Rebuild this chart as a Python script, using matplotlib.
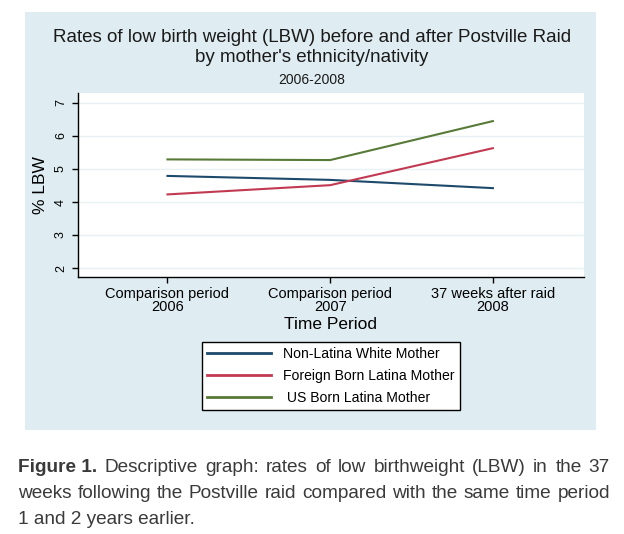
import numpy as np
import matplotlib.pyplot as plt
from matplotlib.patches import Rectangle

periods = ["Comparison period\n2006", "Comparison period\n2007", "37 weeks after raid\n2008"]
groups = ["Non-Latina White Mother", "Foreign Born Latina Mother", " US Born Latina Mother"]
white_nl = [4.79, 4.67, 4.42]
foreign_latina = [4.23, 4.51, 5.63]
us_latina = [5.29, 5.27, 6.45]
colors = ["#1d4a6b", "#c23a52", "#587a38"]
yticks = [2, 3, 4, 5, 6, 7]

caption_bold = "Figure 1."
caption_lines = [
    "Descriptive graph: rates of low birthweight (LBW) in the 37",
    "weeks following the Postville raid compared with the same time period",
    "1 and 2 years earlier.",
]

plt.rcParams['font.family'] = ['Liberation Sans', 'DejaVu Sans']

W, H = 624, 534
fig = plt.figure(figsize=(W / 100, H / 100), dpi=100)
fig.patch.set_facecolor("white")

# light blue panel behind the graph
panel = Rectangle((25 / W, 1 - 430 / H), (596 - 25) / W, (430 - 12) / H,
                  transform=fig.transFigure, facecolor="#dfedf2", edgecolor="none", zorder=-5)
fig.patches.append(panel)

ax = fig.add_axes([78 / W, 1 - 277 / H, (584 - 78) / W, (277 - 93) / H])
ax.set_facecolor("white")
x = np.arange(len(periods))
for vals, c, lab in zip([white_nl, foreign_latina, us_latina], colors, groups):
    ax.plot(x, vals, color=c, lw=1.5, label=lab, zorder=3)

ax.set_xlim(-0.55, 2.56)
ax.set_ylim(1.73, 7.3)
ax.set_yticks(yticks)
ax.set_yticklabels([str(t) for t in yticks], rotation=90, va="center", fontsize=9)
ax.set_xticks(x)
ax.set_xticklabels(periods, fontsize=10.5, linespacing=0.95)
ax.tick_params(axis="both", direction="out", length=4, width=1, colors="black", pad=3)
ax.tick_params(axis="y", pad=4)
ax.grid(axis="y", color="#e8f1f4", lw=1)
ax.set_axisbelow(True)
for s in ["top", "right"]:
    ax.spines[s].set_visible(False)
for s in ["left", "bottom"]:
    ax.spines[s].set_color("black")
    ax.spines[s].set_linewidth(1)
ax.set_ylabel("% LBW", fontsize=12.5, labelpad=5)
ax.set_xlabel("Time Period", fontsize=12.5, labelpad=2)

fig.text(0.5, 1 - 38 / H, "Rates of low birth weight (LBW) before and after Postville Raid",
         ha="center", va="center", fontsize=13.5, color="#1a1a1a")
fig.text(0.5, 1 - 58 / H, "by mother's ethnicity/nativity",
         ha="center", va="center", fontsize=13.5, color="#1a1a1a")
fig.text(0.5, 1 - 80 / H, "2006-2008", ha="center", va="center", fontsize=10, color="#1a1a1a")

leg = fig.legend(loc="center", bbox_to_anchor=(331 / W, 1 - 376 / H), fontsize=10.1,
                 frameon=True, fancybox=False, edgecolor="black", framealpha=1,
                 handlelength=4.5, handletextpad=0.9, labelspacing=0.55, borderpad=0.4,
                 borderaxespad=0)
leg.get_frame().set_linewidth(1)
leg.get_frame().set_facecolor("white")
for h in leg.legend_handles:
    h.set_linewidth(2)

# caption: size chosen so the long second line fills the width, then lines justified
fig.canvas.draw()
rend = fig.canvas.get_renderer()
x0, x1 = 18, 610
probe = fig.text(0, 0, caption_lines[1], fontsize=12)
fs = 12 * (x1 - x0) / probe.get_window_extent(rend).width
probe.remove()
cap_font = dict(fontsize=fs, color="#3a3a3a")
ys = [467, 493, 519]
for i, line in enumerate(caption_lines):
    if i == len(caption_lines) - 1:
        fig.text(x0 / W, 1 - ys[i] / H, line, va="center", ha="left", **cap_font)
        continue
    items = [(w, "normal") for w in line.split(" ")]
    if i == 0:
        items.insert(0, (caption_bold, "bold"))
    texts = [fig.text(0, 1 - ys[i] / H, w, va="center", ha="left", fontweight=fw, **cap_font)
             for w, fw in items]
    widths = [t.get_window_extent(rend).width for t in texts]
    gap = (x1 - x0 - sum(widths)) / (len(texts) - 1)
    pos = x0
    for t, w in zip(texts, widths):
        t.set_x(pos / W)
        pos += w + gap

fig.savefig("out.png", dpi=100)
